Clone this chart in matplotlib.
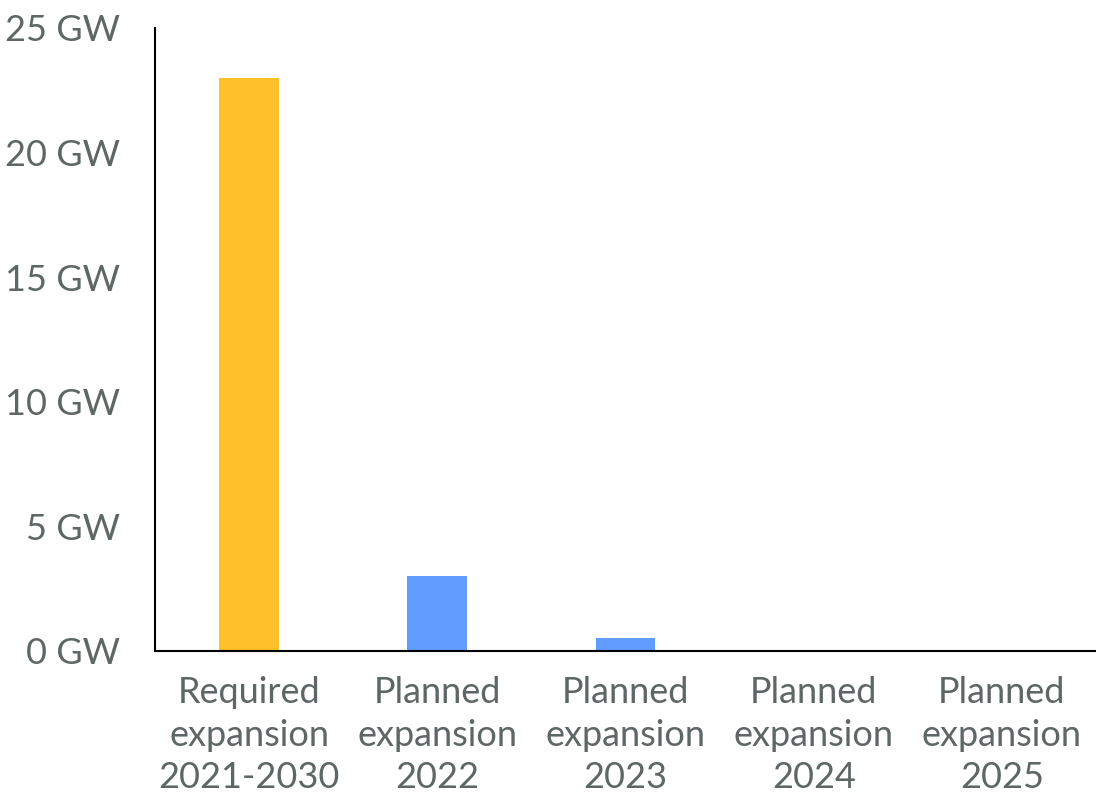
import matplotlib
matplotlib.use("Agg")
import matplotlib.pyplot as plt
from matplotlib.ticker import FuncFormatter

plt.rcParams['font.family'] = ['Lato', 'DejaVu Sans']

categories = ["Required\nexpansion\n2021-2030", "Planned\nexpansion\n2022",
              "Planned\nexpansion\n2023", "Planned\nexpansion\n2024",
              "Planned\nexpansion\n2025"]
values = [23.0, 3.0, 0.52, 0.0, 0.0]
colors = ["#FFC02A", "#619CFF", "#619CFF", "#619CFF", "#619CFF"]

text_color = "#5F6666"

fig = plt.figure(figsize=(10.96, 8), dpi=100)
ax = fig.add_axes([0.1414, 0.18625, 0.8586, 0.77875])

x = range(len(categories))
ax.bar(x, values, width=0.317, color=colors)

ax.set_xlim(-0.5, 4.5)
ax.set_ylim(0, 25)
ax.set_yticks([0, 5, 10, 15, 20, 25])
ax.yaxis.set_major_formatter(FuncFormatter(lambda v, p: f"{int(v)} GW"))
ax.set_xticks(list(x))
ax.set_xticklabels(categories, linespacing=1.36)

ax.tick_params(axis='both', length=0, labelsize=26, labelcolor=text_color)
ax.tick_params(axis='y', pad=25)
ax.tick_params(axis='x', pad=18)

ax.spines['top'].set_visible(False)
ax.spines['right'].set_visible(False)
ax.spines['left'].set_linewidth(1.5)
ax.spines['bottom'].set_linewidth(1.5)

fig.savefig("out.png", dpi=100)
